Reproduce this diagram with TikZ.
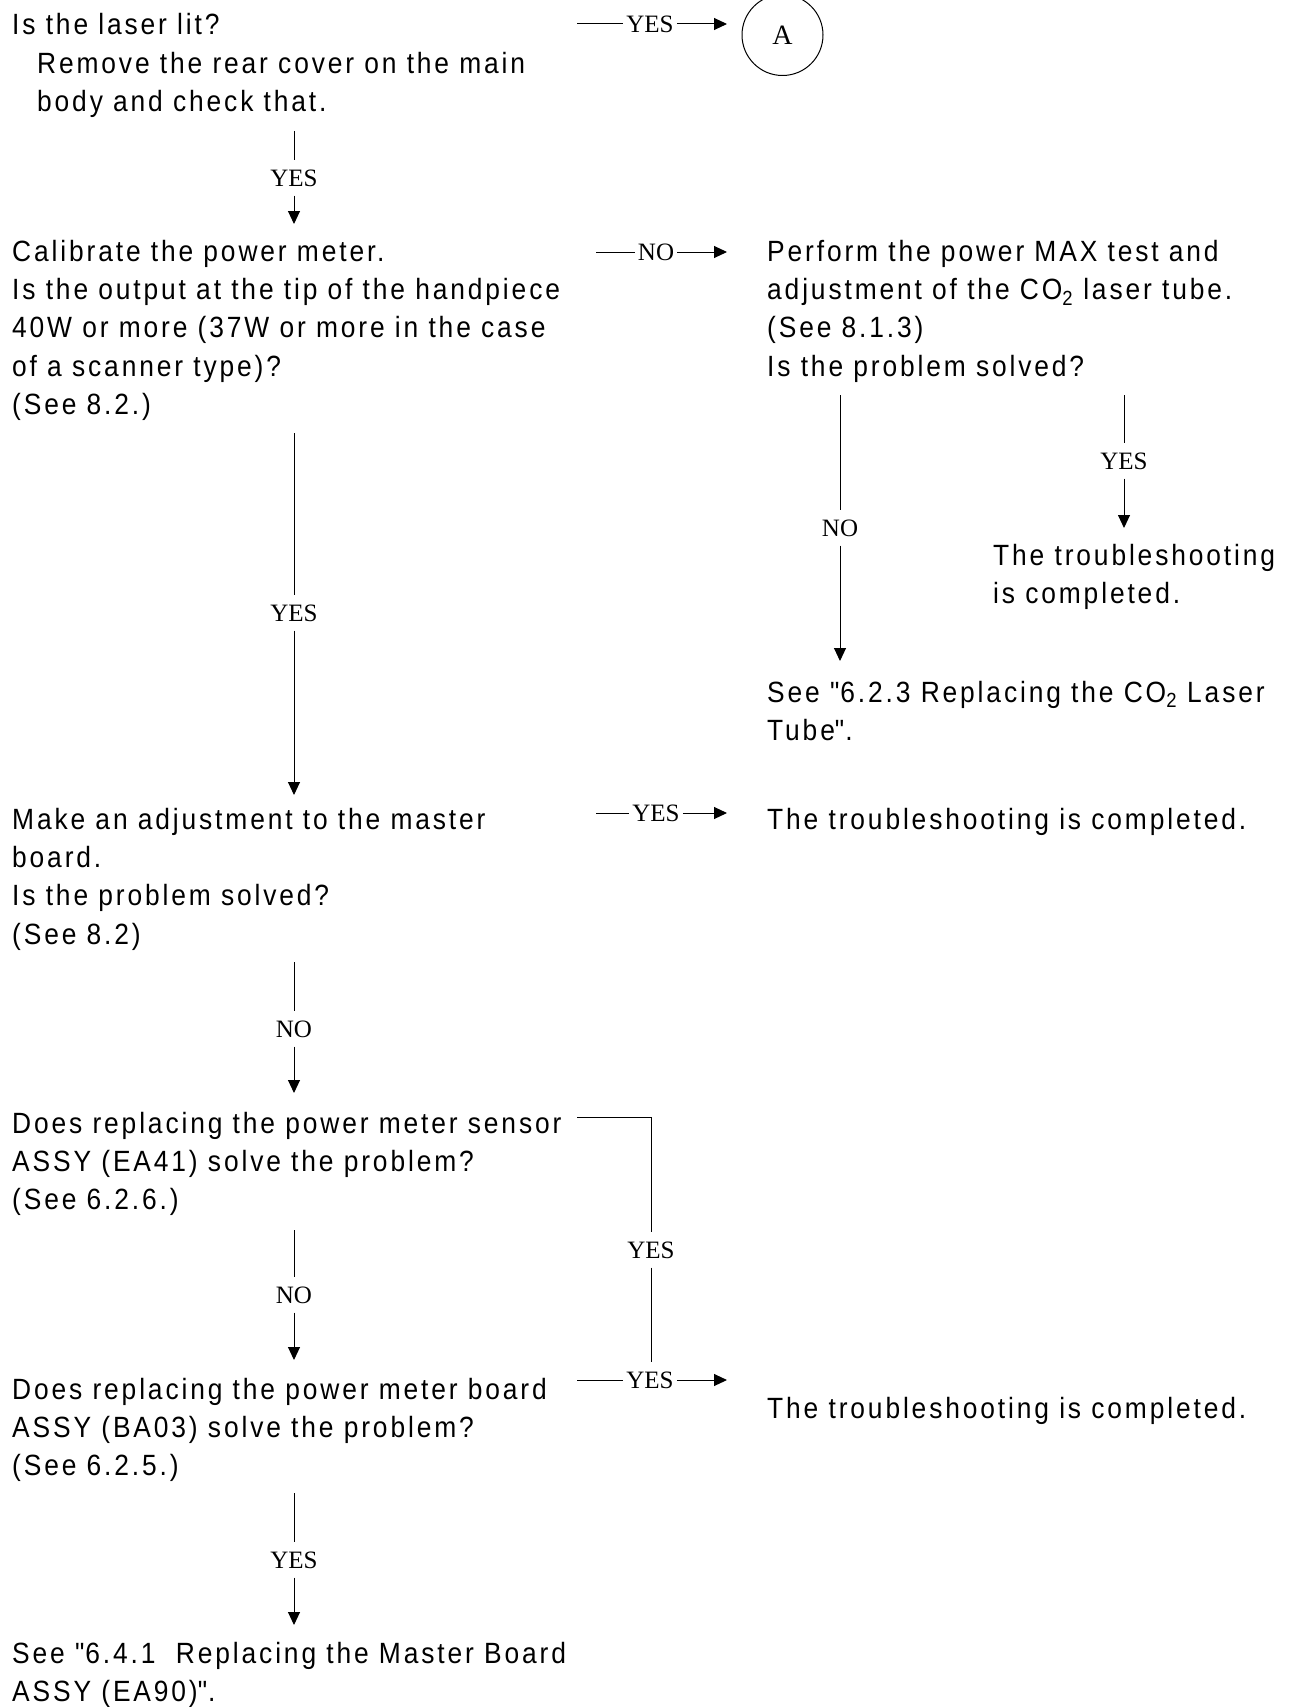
\documentclass[tikz,border=0pt]{standalone}
\usepackage{fontspec}
\setmainfont{Liberation Sans}[Ligatures=TeXOff,FakeStretch=0.9,LetterSpace=9.8]
\newfontfamily\lblfont{Liberation Serif}
\usetikzlibrary{arrows.meta}
% multi-line text block whose baseline is that of its first line
\newcommand{\blk}[1]{\begin{tabular}[t]{@{}l@{}}#1\end{tabular}}
\newcommand{\indt}{\hspace*{25pt}}
\begin{document}
\begin{tikzpicture}[x=1pt,y=-1pt,
  txt/.style={anchor=base west,inner sep=0pt,font=\fontsize{29.3}{38.4}\selectfont},
  lbl/.style={inner xsep=3pt,inner ysep=9pt,font=\lblfont\fontsize{25}{25}\selectfont},
  flow/.style={line width=1pt,-{Triangle[length=13pt,width=12pt]}},
  wire/.style={line width=1pt},
  connector/.style={draw,circle,line width=1pt,minimum size=81pt,inner sep=0pt,font=\lblfont\fontsize{28}{28}\selectfont}]
\useasboundingbox (0,0) rectangle (1293,1707);

% ---- text blocks ----
\node[txt] (lit) at (12,35) {\blk{Is the laser lit?\\\indt Remove the rear cover on the main\\\indt body and check that.}};
\node[connector] (A) at (782.5,35) {A};
\node[txt] (cal) at (12,261) {\blk{Calibrate the power meter.\\Is the output at the tip of the handpiece\\40W or more (37W or more in the case\\of a scanner type)?\\(See 8.2.)}};
\node[txt] (pmax) at (767,261) {\blk{Perform the power MAX test and\\adjustment of the CO\textsubscript{2} laser tube.\\(See 8.1.3)\\Is the problem solved?}};
\node[txt] (done1) at (993,565) {\blk{The troubleshooting\\is completed.}};
\node[txt] (tube) at (767,702) {\blk{See \textquotedbl 6.2.3 Replacing the CO\textsubscript{2} Laser\\Tube\textquotedbl .}};
\node[txt] (mast) at (12,829) {\blk{Make an adjustment to the master\\board.\\Is the problem solved?\\(See 8.2)}};
\node[txt] (done2) at (767,829) {The troubleshooting is completed.};
\node[txt] (sens) at (12,1133) {\blk{Does replacing the power meter sensor\\ASSY (EA41) solve the problem?\\(See 6.2.6.)}};
\node[txt] (board) at (12,1399) {\blk{Does replacing the power meter board\\ASSY (BA03) solve the problem?\\(See 6.2.5.)}};
\node[txt] (done3) at (767,1418) {The troubleshooting is completed.};
\node[txt] (mref) at (12,1663) {\blk{See \textquotedbl 6.4.1\ \ Replacing the Master Board\\ASSY (EA90)\textquotedbl .}};

% ---- connector end points ----
\coordinate (litS) at (294,131);   \coordinate (calN) at (294,224);
\coordinate (litE) at (577,24);    \coordinate (AW) at (727,24);
\coordinate (calE) at (596,252);   \coordinate (pmaxW) at (727,252);
\coordinate (calS) at (294,433);   \coordinate (mastN) at (294,795);
\coordinate (pmaxSL) at (840,395); \coordinate (tubeN) at (840,661);
\coordinate (pmaxSR) at (1124,395);\coordinate (done1N) at (1124,528);
\coordinate (mastE) at (596,813);  \coordinate (done2W) at (727,813);
\coordinate (mastS) at (294,962);  \coordinate (sensN) at (294,1093);
\coordinate (sensE) at (577,1117);
\coordinate (sensS) at (294,1230); \coordinate (boardN) at (294,1360);
\coordinate (boardE) at (577,1380);\coordinate (done3W) at (727,1380);
\coordinate (boardS) at (294,1493);\coordinate (mrefN) at (294,1625);

% ---- answer labels ----
\node[lbl] (y1) at (294,178) {YES};
\node[lbl] (y2) at (650,24) {YES};
\node[lbl] (n1) at (656,252) {NO};
\node[lbl] (y3) at (294,613) {YES};
\node[lbl] (n2) at (840,528) {NO};
\node[lbl] (y4) at (1124,461) {YES};
\node[lbl] (y5) at (656,813) {YES};
\node[lbl] (n3) at (294,1029) {NO};
\node[lbl] (y6) at (651,1250) {YES};
\node[lbl] (n4) at (294,1295) {NO};
\node[lbl] (y7) at (650,1380) {YES};
\node[lbl] (y8) at (294,1560) {YES};

% ---- connectors ----
\draw[wire] (litS) -- (y1);   \draw[flow] (y1) -- (calN);
\draw[wire] (litE) -- (y2);   \draw[flow] (y2) -- (AW);
\draw[wire] (calE) -- (n1);   \draw[flow] (n1) -- (pmaxW);
\draw[wire] (calS) -- (y3);   \draw[flow] (y3) -- (mastN);
\draw[wire] (pmaxSL) -- (n2); \draw[flow] (n2) -- (tubeN);
\draw[wire] (pmaxSR) -- (y4); \draw[flow] (y4) -- (done1N);
\draw[wire] (mastE) -- (y5);  \draw[flow] (y5) -- (done2W);
\draw[wire] (mastS) -- (n3);  \draw[flow] (n3) -- (sensN);
\draw[wire] (sensE) -| (y6);  \draw[wire] (y6) -- (y6 |- y7.north);
\draw[wire] (sensS) -- (n4);  \draw[flow] (n4) -- (boardN);
\draw[wire] (boardE) -- (y7); \draw[flow] (y7) -- (done3W);
\draw[wire] (boardS) -- (y8); \draw[flow] (y8) -- (mrefN);
\end{tikzpicture}
\end{document}
